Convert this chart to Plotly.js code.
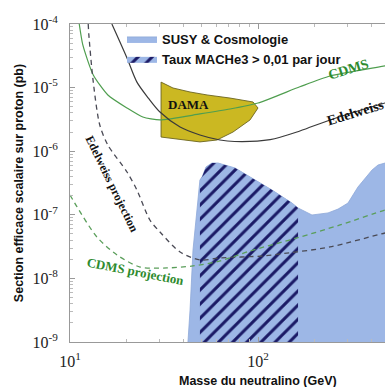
<!DOCTYPE html>
<html>
<head>
<meta charset="utf-8">
<script src="https://cdn.plot.ly/plotly-3.0.1.min.js"></script>
<style>html,body{margin:0;padding:0;background:#fff;overflow:hidden}#chart{width:385px;height:387px}</style>
</head>
<body>
<div id="chart"></div>
<script>
// ---- Data (mass in GeV, cross section in pb) ----
const susyMass = [42.4, 43.5, 45.1, 47.4, 49.1, 50.4, 52.9, 56.9, 61.3, 75.5, 92.9, 118.7, 151.7, 163.3, 193.7, 235.7, 266.5, 301, 340, 404, 435, 474, 569, 569];
const susySigma = [1.0e-9, 3.18e-9, 2.8e-8, 1.19e-7, 3.52e-7, 3.93e-7, 5.65e-7, 6.52e-7, 6.52e-7, 5.45e-7, 3.79e-7, 2.45e-7, 1.53e-7, 1.28e-7, 9.93e-8, 1.07e-7, 1.23e-7, 1.53e-7, 2.73e-7, 5.06e-7, 6.07e-7, 6.52e-7, 7.3e-7, 1.0e-9];

const macheMass = [49.1, 49.1, 50.4, 52.9, 56.9, 61.3, 75.5, 92.9, 118.7, 151.7, 163.3, 163.3];
const macheSigma = [1.0e-9, 3.52e-7, 3.93e-7, 5.65e-7, 6.52e-7, 6.52e-7, 5.45e-7, 3.79e-7, 2.45e-7, 1.53e-7, 1.28e-7, 1.0e-9];

const damaMass = [30.5, 35.3, 43.5, 53.6, 71.0, 94.1, 100, 90.7, 73.6, 60.5, 49.1, 35.3, 30.5, 30.5];
const damaSigma = [1.22e-5, 9.86e-6, 8.53e-6, 7.66e-6, 6.85e-6, 5.94e-6, 4.78e-6, 3.10e-6, 2.00e-6, 1.50e-6, 1.40e-6, 1.61e-6, 1.67e-6, 1.22e-5];

const cdmsMass = [11.2, 11.7, 13.3, 15.9, 20.1, 24.4, 30.1, 49.1, 71.0, 100, 167, 241.5, 474, 569];
const cdmsSigma = [1.0e-4, 4.68e-5, 1.58e-5, 7.66e-6, 4.78e-6, 3.45e-6, 3.10e-6, 3.85e-6, 4.61e-6, 5.73e-6, 1.03e-5, 1.52e-5, 2.19e-5, 2.44e-5];

const edelMass = [16.7, 20.1, 22.7, 26.1, 30.1, 38.5, 49.1, 62.8, 75.0, 116, 167, 241.5, 474, 569];
const edelSigma = [1.0e-4, 2.92e-5, 1.22e-5, 6.85e-6, 4.13e-6, 2.40e-6, 1.80e-6, 1.50e-6, 1.42e-6, 1.52e-6, 2.08e-6, 3.10e-6, 5.73e-6, 6.62e-6];

const edelProjMass = [12.5, 12.6, 13.3, 14.4, 15.9, 20.1, 22.7, 26.6, 30.1, 38.5, 49.1, 62.8, 106, 130.9, 241.5, 474, 569];
const edelProjSigma = [1.0e-4, 6.7e-5, 1.22e-5, 2.58e-6, 1.25e-6, 4.71e-7, 2.45e-7, 8.28e-8, 5.37e-8, 2.60e-8, 1.95e-8, 2.10e-8, 2.25e-8, 2.42e-8, 3.12e-8, 5.18e-8, 5.77e-8];

const cdmsProjMass = [10, 10.9, 13.9, 17.8, 23.6, 32.8, 45.1, 62.8, 90.7, 161, 273, 474, 569];
const cdmsProjSigma = [2.05e-7, 1.33e-7, 4.48e-8, 2.33e-8, 1.51e-8, 1.46e-8, 1.57e-8, 1.88e-8, 2.70e-8, 4.32e-8, 6.92e-8, 1.19e-7, 1.37e-7];

const xTickVals = [10, 100, 1000];
const xTickText = ['10<sup>1</sup>', '10<sup>2</sup>', '10<sup>3</sup>'];
const yTickVals = [1e-9, 1e-8, 1e-7, 1e-6, 1e-5, 1e-4];
const yTickText = ['10<sup>-9</sup>', '10<sup>-8</sup>', '10<sup>-7</sup>', '10<sup>-6</sup>', '10<sup>-5</sup>', '10<sup>-4</sup>'];

const seriesNames = ['SUSY & Cosmologie', 'Taux MACHe3 > 0,01 par jour'];
const labelTexts = ['CDMS', 'Edelweiss', 'DAMA', 'Edelweiss projection', 'CDMS projection'];
const xTitle = 'Masse du neutralino (GeV)';
const yTitle = 'Section efficace scalaire sur proton (pb)';

// minor tick positions (axis decoration)
const xMinor = [], yMinor = [];
for (let d = 1; d <= 2; d++) for (let k = 2; k <= 9; k++) xMinor.push(k * Math.pow(10, d));
for (let d = -9; d <= -5; d++) for (let k = 2; k <= 9; k++) yMinor.push(k * Math.pow(10, d));

const SERIF = 'Liberation Serif, Times New Roman, serif';
const SANS = 'Liberation Sans, Arial, sans-serif';
const BLUE = '#9db7e6';

const traces = [
  {x: susyMass, y: susySigma, type: 'scatter', mode: 'lines', fill: 'toself', fillcolor: BLUE,
   line: {color: '#8ea8d8', width: 0.8}, name: seriesNames[0], hoverinfo: 'skip'},
  {x: macheMass, y: macheSigma, type: 'scatter', mode: 'lines', fill: 'toself', fillcolor: BLUE,
   fillpattern: {shape: '/', fgcolor: '#1b1a66', bgcolor: BLUE, size: 10, solidity: 0.3},
   line: {color: 'rgba(0,0,0,0)', width: 0}, name: seriesNames[1], hoverinfo: 'skip'},
  {x: damaMass, y: damaSigma, type: 'scatter', mode: 'lines', fill: 'toself', fillcolor: '#cbb822',
   line: {color: '#6b6420', width: 0.9}, showlegend: false, hoverinfo: 'skip'},
  {x: cdmsMass, y: cdmsSigma, type: 'scatter', mode: 'lines', line: {color: '#4f9e4f', width: 1.2, shape: 'spline', smoothing: 0.6}, showlegend: false},
  {x: edelMass, y: edelSigma, type: 'scatter', mode: 'lines', line: {color: '#3a3a3a', width: 1.2, shape: 'spline', smoothing: 0.8}, showlegend: false},
  {x: edelProjMass, y: edelProjSigma, type: 'scatter', mode: 'lines', line: {color: '#4a4a55', width: 1.3, dash: '5px,4px', shape: 'spline', smoothing: 0.8}, showlegend: false},
  {x: cdmsProjMass, y: cdmsProjSigma, type: 'scatter', mode: 'lines', line: {color: '#5a9e5a', width: 1.3, dash: '5px,4px', shape: 'spline', smoothing: 0.8}, showlegend: false}
];

const layout = {
  width: 385, height: 387,
  margin: {l: 70, r: 0, t: 24, b: 45},
  paper_bgcolor: '#fff', plot_bgcolor: '#fff',
  showlegend: true,
  legend: {x: 0.165, y: 1.0, xanchor: 'left', yanchor: 'top', bgcolor: 'rgba(255,255,255,0)',
           font: {family: SANS, size: 13, color: '#111', weight: 'bold'}, itemwidth: 30},
  xaxis: {type: 'log', range: [1, 2.6755], showgrid: false, zeroline: false,
          showline: true, linecolor: '#999', linewidth: 1, mirror: 'ticks',
          ticks: 'inside', ticklen: 5, tickcolor: '#999',
          tickmode: 'array', tickvals: xTickVals, ticktext: xTickText,
          tickfont: {family: SERIF, size: 16, color: '#222'}, ticklabelstandoff: 5,
          minor: {tickmode: 'array', tickvals: xMinor, ticks: 'inside', ticklen: 3, tickcolor: '#bbb'}},
  yaxis: {type: 'log', range: [-9, -4], showgrid: false, zeroline: false,
          showline: true, linecolor: '#999', linewidth: 1,
          ticks: 'inside', ticklen: 5, tickcolor: '#999',
          tickmode: 'array', tickvals: yTickVals, ticktext: yTickText,
          tickfont: {family: SERIF, size: 16, color: '#222'}, ticklabelstandoff: 8,
          minor: {tickmode: 'array', tickvals: yMinor, ticks: 'inside', ticklen: 3, tickcolor: '#bbb'},
          title: {text: yTitle, font: {family: SANS, size: 12.5, color: '#111', weight: 'bold'}, standoff: 6}},
  annotations: [
    {text: labelTexts[0], x: 2.479, y: -4.723, xref: 'x', yref: 'y', showarrow: false, textangle: -17,
     font: {family: SERIF, size: 14, color: '#2e8b2e', weight: 'bold'}},
    {text: labelTexts[1], x: 2.521, y: -5.384, xref: 'x', yref: 'y', showarrow: false, textangle: -17,
     font: {family: SERIF, size: 14, color: '#111', weight: 'bold'}},
    {text: labelTexts[2], x: 1.628, y: -5.258, xref: 'x', yref: 'y', showarrow: false,
     font: {family: SERIF, size: 13, color: '#111', weight: 'bold'}},
    {text: labelTexts[3], x: 1.2234, y: -6.516, xref: 'x', yref: 'y', showarrow: false, textangle: 64,
     font: {family: SERIF, size: 12, color: '#111', weight: 'bold'}},
    {text: labelTexts[4], x: 1.351, y: -7.899, xref: 'x', yref: 'y', showarrow: false, textangle: 11,
     font: {family: SERIF, size: 13, color: '#2e8b2e', weight: 'bold'}},
    {text: xTitle, x: 0.597, y: -0.122, xref: 'paper', yref: 'paper', showarrow: false,
     xanchor: 'center', yanchor: 'middle', font: {family: SANS, size: 12.5, color: '#111', weight: 'bold'}}
  ]
};

Plotly.newPlot('chart', traces, layout, {displayModeBar: false, staticPlot: true});
</script>
</body>
</html>
